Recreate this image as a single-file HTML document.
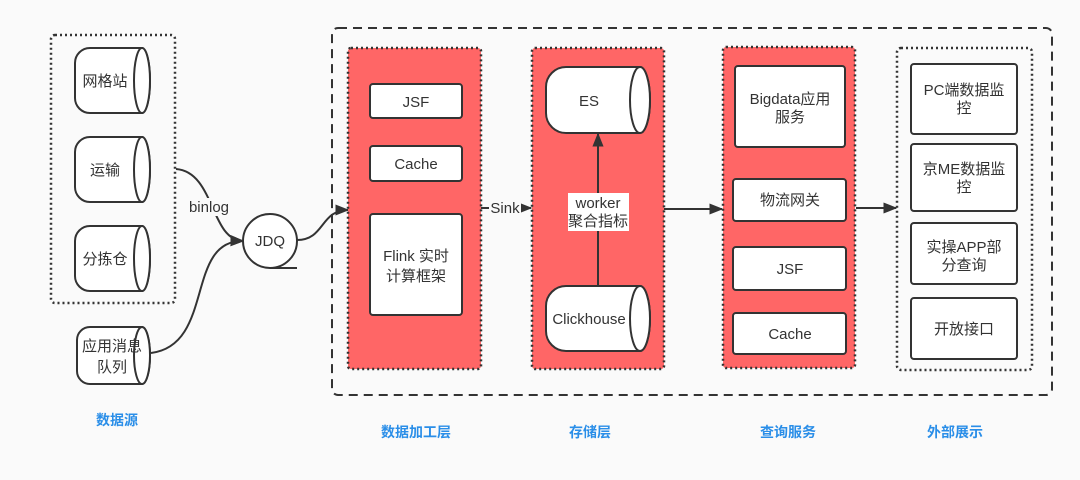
<!DOCTYPE html>
<html><head><meta charset="utf-8"><style>
html,body{margin:0;padding:0;background:#fafafa;}
svg{display:block;}
text{font-family:"Liberation Sans","Noto Sans CJK SC",sans-serif;fill:#333;font-size:15px;}
.lbl{fill:#2a8ee8;font-weight:bold;font-size:14px;}
</style></head><body>
<svg width="1080" height="480" viewBox="0 0 1080 480" xmlns="http://www.w3.org/2000/svg">
<defs>
<marker id="ar2" viewBox="0 0 10 10" refX="9" refY="5" markerWidth="14" markerHeight="14" orient="auto" markerUnits="userSpaceOnUse">
<path d="M0,1 L10,5 L0,9 z" fill="#333"/></marker>
</defs>
<rect width="1080" height="480" fill="#fafafa"/>
<rect x="332" y="28" width="720" height="367" rx="6" fill="none" stroke="#333" stroke-width="2" stroke-dasharray="9,6"/>
<rect x="51" y="35" width="124" height="268" rx="4" fill="none" stroke="#333" stroke-width="2.5" stroke-dasharray="2,3"/>
<g stroke="#333" stroke-width="2" fill="#fff">
<path d="M90,48 H142 A8,32.5 0 0 1 142,113 H90 A15,15 0 0 1 75,98 V63 A15,15 0 0 1 90,48 Z"/><ellipse cx="142" cy="80.5" rx="8" ry="32.5"/>
<path d="M90,137 H142 A8,32.5 0 0 1 142,202 H90 A15,15 0 0 1 75,187 V152 A15,15 0 0 1 90,137 Z"/><ellipse cx="142" cy="169.5" rx="8" ry="32.5"/>
<path d="M90,226 H142 A8,32.5 0 0 1 142,291 H90 A15,15 0 0 1 75,276 V241 A15,15 0 0 1 90,226 Z"/><ellipse cx="142" cy="258.5" rx="8" ry="32.5"/>
<path d="M90,327 H142 A8,28.5 0 0 1 142,384 H90 A13,13 0 0 1 77,371 V340 A13,13 0 0 1 90,327 Z"/><ellipse cx="142" cy="355.5" rx="8" ry="28.5"/>
</g>
<text x="105" y="86" text-anchor="middle">网格站</text>
<text x="105" y="175" text-anchor="middle">运输</text>
<text x="105" y="264" text-anchor="middle">分拣仓</text>
<text x="112" y="351" text-anchor="middle">应用消息</text>
<text x="112" y="372" text-anchor="middle">队列</text>
<g fill="none" stroke="#333" stroke-width="2">
<path d="M176,169 C215,172 210,240 243,241" marker-end="url(#ar2)"/>
<path d="M151,353 C215,345 185,240 243,241" marker-end="url(#ar2)"/>
<path d="M297,240 C325,240 320,210 348,210" marker-end="url(#ar2)"/>
</g>
<rect x="185" y="198" width="48" height="18" fill="#fafafa"/>
<text x="209" y="212" text-anchor="middle">binlog</text>
<circle cx="270" cy="241" r="27" fill="#fff" stroke="#333" stroke-width="2"/>
<line x1="270" y1="268" x2="297" y2="268" stroke="#333" stroke-width="2"/>
<text x="270" y="246" text-anchor="middle">JDQ</text>
<g fill="#ff6666" stroke="#333" stroke-width="2.5" stroke-dasharray="2,3">
<rect x="348" y="48" width="133" height="321" rx="3"/>
<rect x="532" y="48" width="132" height="321" rx="3"/>
<rect x="723" y="47" width="132" height="321" rx="3"/>
</g>
<rect x="897" y="48" width="135" height="322" rx="4" fill="none" stroke="#333" stroke-width="2.5" stroke-dasharray="2,3"/>
<g fill="#fff" stroke="#333" stroke-width="2">
<rect x="370" y="84" width="92" height="34" rx="3"/>
<rect x="370" y="146" width="92" height="35" rx="3"/>
<rect x="370" y="214" width="92" height="101" rx="3"/>
<rect x="735" y="66" width="110" height="81" rx="3"/>
<rect x="733" y="179" width="113" height="42" rx="3"/>
<rect x="733" y="247" width="113" height="43" rx="3"/>
<rect x="733" y="313" width="113" height="41" rx="3"/>
<rect x="911" y="64" width="106" height="70" rx="3"/>
<rect x="911" y="144" width="106" height="67" rx="3"/>
<rect x="911" y="223" width="106" height="61" rx="3"/>
<rect x="911" y="298" width="106" height="61" rx="3"/>
<path d="M566,67 H640 A10,33 0 0 1 640,133 H566 A20,20 0 0 1 546,113 V87 A20,20 0 0 1 566,67 Z"/><ellipse cx="640" cy="100" rx="10" ry="33"/>
<path d="M566,286 H640 A10,32.5 0 0 1 640,351 H566 A20,20 0 0 1 546,331 V306 A20,20 0 0 1 566,286 Z"/><ellipse cx="640" cy="318.5" rx="10" ry="32.5"/>
</g>
<text x="416" y="107" text-anchor="middle">JSF</text>
<text x="416" y="169" text-anchor="middle">Cache</text>
<text x="416" y="261" text-anchor="middle">Flink 实时</text>
<text x="416" y="281" text-anchor="middle">计算框架</text>
<text x="589" y="106" text-anchor="middle">ES</text>
<text x="589" y="324" text-anchor="middle">Clickhouse</text>
<text x="790" y="104" text-anchor="middle">Bigdata应用</text>
<text x="790" y="122" text-anchor="middle">服务</text>
<text x="790" y="205" text-anchor="middle">物流网关</text>
<text x="790" y="274" text-anchor="middle">JSF</text>
<text x="790" y="339" text-anchor="middle">Cache</text>
<text x="964" y="95" text-anchor="middle">PC端数据监</text>
<text x="964" y="113" text-anchor="middle">控</text>
<text x="964" y="174" text-anchor="middle">京ME数据监</text>
<text x="964" y="192" text-anchor="middle">控</text>
<text x="964" y="252" text-anchor="middle">实操APP部</text>
<text x="964" y="270" text-anchor="middle">分查询</text>
<text x="964" y="334" text-anchor="middle">开放接口</text>
<g fill="none" stroke="#333" stroke-width="2">
<line x1="481" y1="208" x2="531" y2="208" marker-end="url(#ar2)"/>
<line x1="598" y1="286" x2="598" y2="134" marker-end="url(#ar2)"/>
<line x1="664" y1="209" x2="722" y2="209" marker-end="url(#ar2)"/>
<line x1="856" y1="208" x2="896" y2="208" marker-end="url(#ar2)"/>
</g>
<rect x="489" y="199" width="32" height="18" fill="#fafafa"/>
<text x="505" y="213" text-anchor="middle">Sink</text>
<rect x="568" y="193" width="61" height="38" fill="#fff"/>
<text x="598" y="208" text-anchor="middle">worker</text>
<text x="598" y="226" text-anchor="middle">聚合指标</text>
<text class="lbl" x="117" y="425" text-anchor="middle">数据源</text>
<text class="lbl" x="416" y="437" text-anchor="middle">数据加工层</text>
<text class="lbl" x="590" y="437" text-anchor="middle">存储层</text>
<text class="lbl" x="788" y="437" text-anchor="middle">查询服务</text>
<text class="lbl" x="955" y="437" text-anchor="middle">外部展示</text>
</svg>
</body></html>
